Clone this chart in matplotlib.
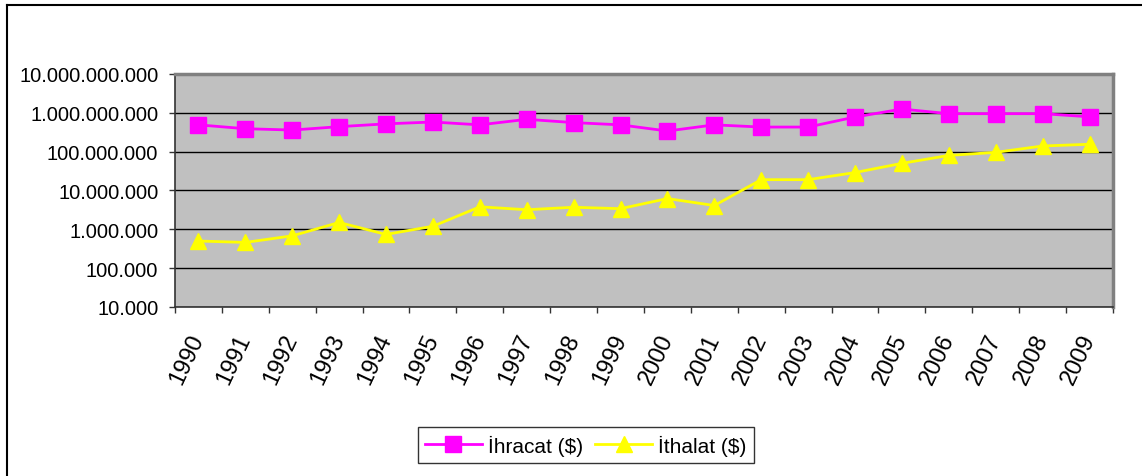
import numpy as np
import matplotlib.pyplot as plt
from matplotlib.lines import Line2D

# --- DATA ---
years = [str(y) for y in range(1990, 2010)]
ihracat = [4.9e8, 3.9e8, 3.6e8, 4.4e8, 5.2e8, 5.8e8, 4.9e8, 6.8e8, 5.6e8, 4.9e8,
           3.4e8, 4.9e8, 4.3e8, 4.3e8, 7.8e8, 1.25e9, 9.5e8, 9.5e8, 9.5e8, 7.9e8]
ithalat = [5.0e5, 4.6e5, 6.8e5, 1.5e6, 7.4e5, 1.2e6, 3.8e6, 3.2e6, 3.7e6, 3.4e6,
           6.2e6, 4.1e6, 1.9e7, 1.9e7, 2.9e7, 5.0e7, 8.0e7, 9.6e7, 1.4e8, 1.55e8]
ytick_vals = [1e4, 1e5, 1e6, 1e7, 1e8, 1e9, 1e10]
ytick_labels = ["10.000", "100.000", "1.000.000", "10.000.000", "100.000.000",
                "1.000.000.000", "10.000.000.000"]

plt.rcParams['font.family'] = ['Liberation Sans', 'DejaVu Sans']

fig = plt.figure(figsize=(11.42, 4.77), dpi=100)
ax = fig.add_axes([0.1532, 0.3543, 0.8214, 0.4885])
ax.set_facecolor('#C0C0C0')

x = np.arange(len(years))
ax.plot(x, ihracat, color='#FF00FF', lw=2, marker='s', ms=11, mec='#FF00FF',
        label='İhracat ($)', zorder=3)
ax.plot(x, ithalat, color='#FFFF00', lw=2, marker='^', ms=12, mec='#FFFF00',
        label='İthalat ($)', zorder=3)

ax.set_yscale('log')
ax.set_ylim(1e4, 1e10)
ax.set_yticks(ytick_vals)
ax.set_yticklabels(ytick_labels, fontsize=14.5)
ax.yaxis.set_minor_locator(plt.NullLocator())
ax.grid(axis='y', color='black', lw=1)
ax.set_axisbelow(True)

ax.set_xlim(-0.5, len(years) - 0.5)
ax.set_xticks(np.arange(-0.5, len(years)), labels=[])
ax.set_xticks(x, minor=True)
ax.set_xticklabels(years, minor=True, fontsize=17, rotation=65,
                   ha='right', va='center', rotation_mode='anchor')
ax.tick_params(axis='x', which='minor', length=0, pad=20)
ax.tick_params(axis='both', which='major', direction='out', length=4,
               width=1, color='#333333')
ax.tick_params(axis='y', pad=8)

for s in ['top', 'right']:
    ax.spines[s].set_color('#808080')
    ax.spines[s].set_linewidth(2.5)
for s in ['left', 'bottom']:
    ax.spines[s].set_color('#333333')
    ax.spines[s].set_linewidth(1.2)

leg = fig.legend(loc='center', bbox_to_anchor=(0.513, 0.065), ncol=2,
                 fontsize=15, frameon=True, fancybox=False, edgecolor='black',
                 handlelength=2.7, handletextpad=0.3, columnspacing=0.6,
                 borderpad=0.35)
leg.get_frame().set_linewidth(1)

# outer chart frame (left and top edges visible)
fig.add_artist(Line2D([7 / 1142, 7 / 1142], [0, 1 - 6 / 477], color='black', lw=1.5,
                      transform=fig.transFigure))
fig.add_artist(Line2D([7 / 1142, 1], [1 - 6 / 477, 1 - 6 / 477], color='black', lw=1.5,
                      transform=fig.transFigure))

plt.savefig('out.png', dpi=100)
plt.close()
